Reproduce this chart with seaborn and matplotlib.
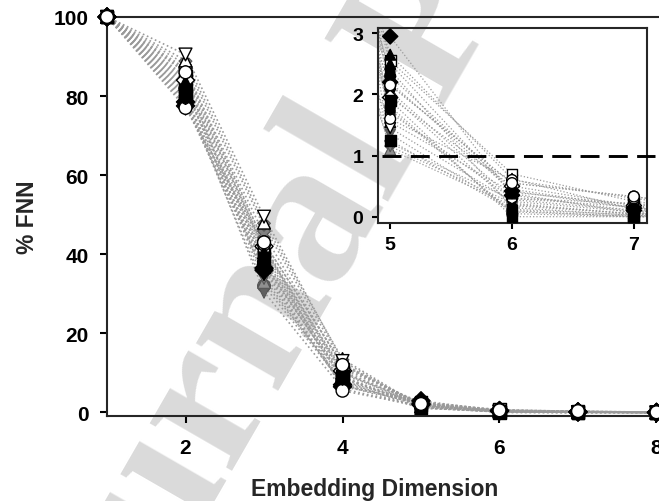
import numpy as np
import pandas as pd
import matplotlib
matplotlib.use("Agg")
import matplotlib.pyplot as plt
import seaborn as sns

# ==================================
# data
# ==================================

dims = [1, 2, 3, 4, 5, 6, 7, 8]
series = ["S%02d" % i for i in range(1, 25)]

markers = ["o", "o", "v", "^", "s", "s", "D", "D", "^", "v", "h", "h",
           "X", "o", "v", "^", "D", "o", "s", "^", "X", "h", "v", "o"]
faces = ["black", "white", "black", "white", "black", "white", "black", "white",
         "black", "white", "black", "white", "#808080", "#606060", "#606060", "#909090",
         "black", "white", "black", "black", "#808080", "black", "#808080", "white"]

fnn_d1 = [100] * 24
fnn_d2 = [82, 87, 78, 89, 80, 85, 77.5, 84, 83, 90.5, 81, 86,
          88, 79, 80.5, 82.5, 78.5, 77, 81.5, 83.5, 86.5, 79.5, 84.5, 86]
fnn_d3 = [38, 43, 35, 48, 37, 41, 36, 42, 39, 49.5, 40, 41.5,
          47, 32, 30.5, 33, 36.5, 42.5, 38.5, 40.5, 45, 37.5, 34, 43]
fnn_d4 = [8, 12, 7, 13.5, 9, 11, 6.5, 10.5, 9.5, 13, 8.5, 10,
          12.5, 7.5, 6, 8, 7, 5.5, 9, 10, 11.5, 8.5, 7, 12]
fnn_d5 = [2.3, 2.15, 2.0, 1.55, 1.25, 2.55, 2.95, 1.95, 2.65, 1.45, 2.4, 1.7,
          1.2, 1.8, 1.35, 1.1, 2.2, 1.6, 1.9, 2.5, 2.05, 1.75, 1.15, 2.15]
fnn_d6 = [0.45, 0.55, 0.2, 0.4, 0.1, 0.7, 0.35, 0.5, 0.62, 0.25, 0.15, 0.3,
          0.28, 0.05, 0.12, 0.18, 0.42, 0.6, 0.0, 0.38, 0.3, 0.08, 0.22, 0.55]
fnn_d7 = [0.15, 0.33, 0.05, 0.2, 0.0, 0.25, 0.1, 0.18, 0.12, 0.08, 0.02, 0.22,
          0.1, 0.0, 0.03, 0.05, 0.14, 0.3, 0.0, 0.06, 0.16, 0.01, 0.04, 0.33]
fnn_d8 = [0.0, 0.05, 0.0, 0.02, 0.0, 0.04, 0.0, 0.03, 0.01, 0.0, 0.0, 0.02,
          0.0, 0.0, 0.0, 0.0, 0.01, 0.03, 0.0, 0.0, 0.02, 0.0, 0.0, 0.05]

threshold = 1

# ==================================
# long table
# ==================================

cols = [fnn_d1, fnn_d2, fnn_d3, fnn_d4, fnn_d5, fnn_d6, fnn_d7, fnn_d8]
rows = []
for i, s in enumerate(series):
    for d, col in zip(dims, cols):
        rows.append({"series": s, "dim": d, "fnn": col[i]})
df = pd.DataFrame(rows)

marker_map = dict(zip(series, markers))
face_map = dict(zip(series, faces))
gray_series = [s for s, f in zip(series, faces) if f.startswith("#")]
is_gray = df["series"].isin(gray_series)

sns.set_style("ticks")
plt.rcParams["font.family"] = ["Liberation Sans", "DejaVu Sans"]
plt.rcParams["font.weight"] = "bold"

fig = plt.figure(figsize=(6.59, 5.02), dpi=100)

# watermark underneath everything
fig.text(0.645, 0.93, "Journal Pre-proof", fontsize=150, rotation=60,
         family="Liberation Serif", fontweight="bold", color="#dadada",
         ha="center", va="center", rotation_mode="anchor", zorder=-5)


def draw(ax, lw, size):
    for s in series:
        sub = df[df["series"] == s]
        sns.lineplot(data=sub, x="dim", y="fnn", color="#9a9a9a",
                     linestyle=":", linewidth=lw, ax=ax, legend=False,
                     estimator=None, zorder=2)
    # gray symbols first so black / white ones sit on top
    sns.scatterplot(data=df[is_gray], x="dim", y="fnn", hue="series",
                    style="series", palette=face_map, markers=marker_map,
                    s=size, edgecolor="#555555", linewidth=0.8, ax=ax,
                    legend=False, zorder=3, clip_on=False)
    sns.scatterplot(data=df[~is_gray], x="dim", y="fnn", hue="series",
                    style="series", palette=face_map, markers=marker_map,
                    s=size, edgecolor="black", linewidth=1, ax=ax,
                    legend=False, zorder=4, clip_on=False)


# ==================================
# main axes
# ==================================

ax = fig.add_axes([0.1624, 0.1693, 0.8576, 0.795])
ax.set_facecolor("none")
draw(ax, 1.2, 85)
ax.set_xlim(1, 8.2)
ax.set_ylim(-0.9, 100)
ax.set_xticks([2, 4, 6, 8])
ax.set_yticks([0, 20, 40, 60, 80, 100])
for sp in ax.spines.values():
    sp.set_linewidth(1.5)
    sp.set_visible(True)
ax.tick_params(direction="out", length=5, width=1.5, labelsize=15, colors="black")
ax.tick_params(axis="x", pad=11)
ax.tick_params(axis="y", pad=8)
ax.set_xlabel("Embedding Dimension", fontsize=16.5, fontweight="bold", labelpad=14)
ax.xaxis.label.set_x(0.474)
ax.set_ylabel("% FNN", fontsize=16.5, fontweight="bold", labelpad=11)

# ==================================
# inset
# ==================================

ax_in = fig.add_axes([0.5736, 0.5538, 0.408, 0.3884])
ax_in.set_facecolor("none")
draw(ax_in, 0.9, 60)
ax_in.set_xlim(4.9, 7.107)
ax_in.set_ylim(-0.103, 3.087)
ax_in.set_xticks([5, 6, 7])
ax_in.set_yticks([0, 1, 2, 3])
ax_in.plot([4.93, 7.17], [threshold, threshold], color="black", lw=2.1,
           dashes=(6.5, 3.2), clip_on=False, zorder=5)
for sp in ax_in.spines.values():
    sp.set_linewidth(1.5)
    sp.set_visible(True)
ax_in.tick_params(direction="out", length=4.5, width=1.5, labelsize=14, colors="black")
ax_in.tick_params(axis="x", pad=5)
ax_in.tick_params(axis="y", pad=6)
ax_in.set_xlabel("")
ax_in.set_ylabel("")

fig.savefig("out.png", dpi=100)
